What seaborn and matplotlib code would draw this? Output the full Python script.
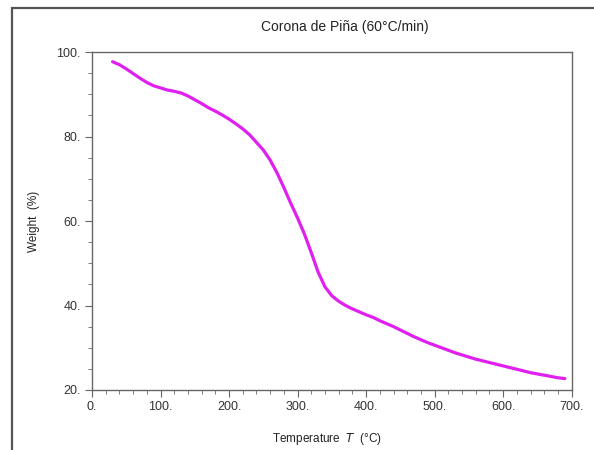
import matplotlib
matplotlib.use("Agg")
import matplotlib.pyplot as plt
import seaborn as sns
import pandas as pd
from matplotlib.patches import Rectangle
from matplotlib.ticker import MultipleLocator, FuncFormatter

# temperature (°C) and weight (%)
temperature = [30, 40, 50, 60, 70, 80, 90, 100, 110, 120, 130, 140, 150, 160, 170,
               180, 190, 200, 210, 220, 230, 240, 250, 260, 270, 280, 290, 300, 310,
               320, 330, 340, 350, 360, 370, 380, 390, 400, 410, 420, 430, 440, 450,
               460, 470, 480, 490, 500, 510, 520, 530, 540, 550, 560, 570, 580, 590,
               600, 610, 620, 630, 640, 650, 660, 670, 680, 690]
weight = [97.7, 97.0, 96.0, 94.9, 93.8, 92.8, 92.0, 91.5, 91.0, 90.7, 90.3, 89.6,
          88.7, 87.8, 86.8, 86.0, 85.1, 84.1, 83.0, 81.8, 80.4, 78.6, 76.8, 74.4,
          71.4, 67.9, 64.2, 60.7, 56.9, 52.5, 47.9, 44.4, 42.3, 41.0, 40.0, 39.2,
          38.5, 37.8, 37.2, 36.4, 35.7, 35.0, 34.2, 33.4, 32.6, 31.9, 31.2, 30.6,
          30.0, 29.4, 28.8, 28.3, 27.8, 27.3, 26.9, 26.5, 26.1, 25.7, 25.3, 24.9,
          24.5, 24.1, 23.8, 23.5, 23.2, 22.9, 22.7]

df = pd.DataFrame({"T": temperature, "W": weight})

sns.set_style("ticks")
plt.rcParams["font.family"] = ["Liberation Sans", "DejaVu Sans"]

fig = plt.figure(figsize=(5.94, 4.5), dpi=100)
ax = fig.add_axes([92 / 594, 60 / 450, (571.7 - 92) / 594, (390 - 52) / 450])

sns.lineplot(data=df, x="T", y="W", ax=ax, color="#E020F0", linewidth=2.3)

ax.set_xlim(0, 700)
ax.set_ylim(20, 100)
ax.xaxis.set_major_locator(MultipleLocator(100))
ax.xaxis.set_minor_locator(MultipleLocator(20))
ax.yaxis.set_major_locator(MultipleLocator(20))
ax.yaxis.set_minor_locator(MultipleLocator(5))
fmt = FuncFormatter(lambda v, p: f"{v:.0f}.")
ax.xaxis.set_major_formatter(fmt)
ax.yaxis.set_major_formatter(fmt)

for s in ax.spines.values():
    s.set_color("#666666")
    s.set_linewidth(1.0)
ax.tick_params(which="both", direction="out", color="#666666", top=False, right=False)
ax.tick_params(which="major", length=5, labelsize=9, labelcolor="#333333", pad=3)
ax.tick_params(which="minor", length=3)

ax.set_xlabel("Temperature  $\\mathit{T}$  (°C)", fontsize=8.5, color="#222222")
ax.set_ylabel("Weight  (%)", fontsize=8.5, color="#222222")
ax.xaxis.set_label_coords(0.49, -0.12)
ax.yaxis.set_label_coords(-0.108, 0.5)

fig.text(345 / 594, 1 - 27 / 450, "Corona de Piña (60°C/min)", ha="center", va="center",
         fontsize=10, color="#222222")

# outer frame
fig.patches.append(Rectangle((12 / 594, -0.05), 1.1, 1 - 8 / 450 + 0.05,
                             transform=fig.transFigure, fill=False,
                             edgecolor="#555555", linewidth=1.6))

fig.savefig("out.png", dpi=100)
